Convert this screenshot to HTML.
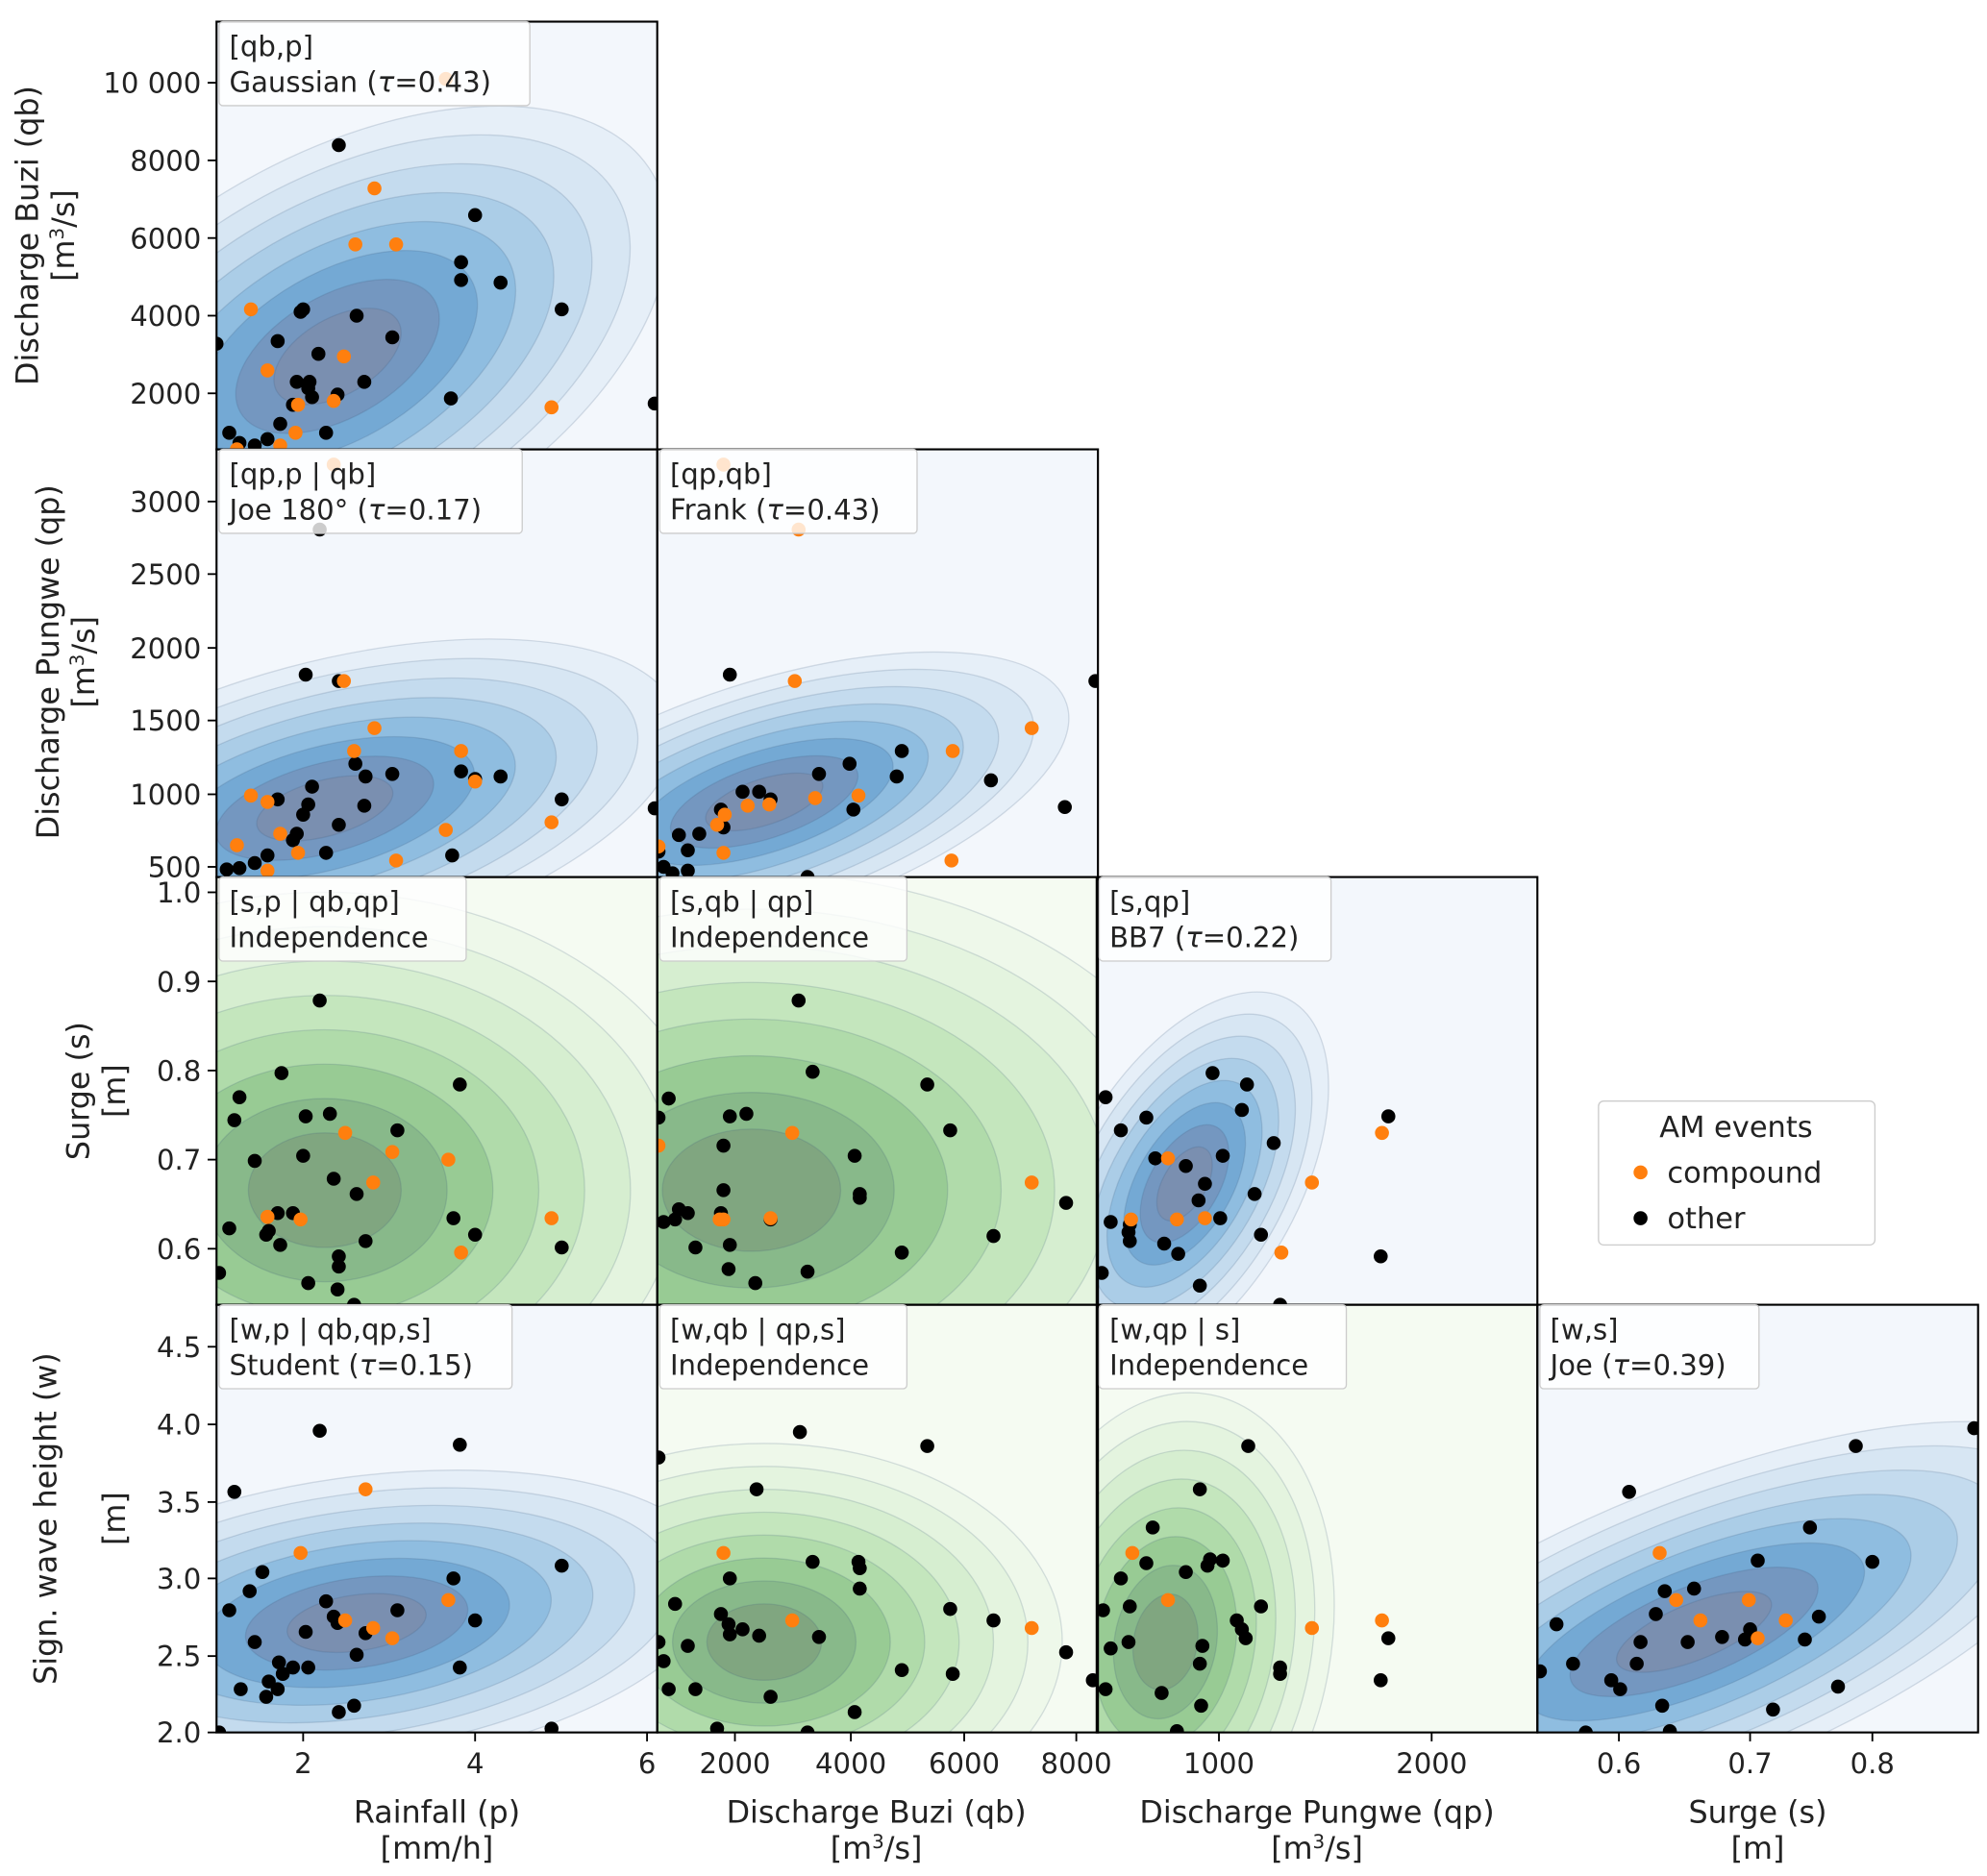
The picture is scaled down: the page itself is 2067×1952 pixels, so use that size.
<!DOCTYPE html>
<html><head><meta charset="utf-8">
<style>
html,body{margin:0;padding:0;background:#fff;}
svg text{font-family:"DejaVu Sans","Liberation Sans",sans-serif;fill:#222;}
</style></head>
<body>
<svg id="s" width="2067" height="1947" viewBox="0 0 1560 1470" preserveAspectRatio="none" xmlns="http://www.w3.org/2000/svg">
<defs></defs>
</svg>
<script>
const S=document.getElementById('s'),NS='http://www.w3.org/2000/svg';
function el(t,a,p){const e=document.createElementNS(NS,t);for(const k in a)e.setAttribute(k,a[k]);(p||S).appendChild(e);return e;}
function tx(x,y,s,o){o=o||{};const e=el('text',Object.assign({x:x,y:y,'font-size':o.fs||22,'text-anchor':o.a||'start'},o.tr?{transform:o.tr}:{}));e.innerHTML=s;return e;}
const defs=S.querySelector('defs');
const blue=['#f3f7fc','#e6eff8','#d7e6f3','#c4dbee','#abcde7','#8fbde0','#74a9d4','#7497c0','#7a8fb0'];
const green=['#f5fbf2','#eef8ea','#e4f4df','#d6eed0','#c4e6bd','#b0dbaa','#98cb94','#88b98a','#80a680'];
const W=346,H=336;
const P=[
[170,17,'b',265,280,-30,55,30],
[170,353,'b',255,635,-15,55,22],
[516,353,'b',600,630,-18,48,18],
[170,689,'g',255,935,0,60,45],
[516,689,'g',590,935,0,70,48],
[861,689,'b',930,930,-60,32,17],
[170,1025,'b',280,1275,-8,55,22],
[516,1025,'g',600,1290,0,45,30],
[861,1025,'g',915,1290,-80,38,25],
[1207,1025,'b',1330,1282,-22,65,22]];
P.forEach((p,i)=>{
 const [x,y,t,cx,cy,rot,rx,ry]=p;
 const cp=el('clipPath',{id:'c'+i},defs);el('rect',{x:x,y:y,width:W,height:H},cp);
 const g=el('g',{'clip-path':'url(#c'+i+')'});
 const col=t=='b'?blue:green;
 el('rect',{x:x,y:y,width:W,height:H,fill:col[0]},g);
 for(let k=7;k>=0;k--){
   const f=1+k*0.6;
   el('ellipse',{cx:cx,cy:cy,rx:rx*f,ry:ry*f,transform:`rotate(${rot} ${cx} ${cy})`,fill:col[8-k],stroke:'rgba(60,90,120,0.18)','stroke-width':1},g);
 }
 p.push(g);
});
const pts=[
[[170,270],[180,340],[188,348],[200,350],[210,345],[220,333],[218,268],[236,245],[238,243],[245,312],[242,305],[250,278],[243,300],[256,340],[266,114],[265,310],[280,248],[286,300],[308,265],[354,313],[362,206],[362,220],[373,169],[393,222],[441,243],[514,317],[230,318],[233,300]],
[[178,683],[188,682],[200,678],[210,672],[218,628],[233,655],[238,640],[240,530],[242,632],[245,618],[256,670],[266,535],[266,648],[279,600],[286,633],[287,610],[251,416],[308,608],[355,672],[362,606],[373,612],[393,610],[441,628],[514,635],[230,660]],
[[517,669],[521,681],[528,686],[533,656],[540,684],[549,655],[566,636],[573,530],[568,650],[583,622],[596,622],[605,628],[634,689],[643,608],[667,600],[670,636],[704,610],[708,590],[778,613],[836,634],[860,535],[540,668]],
[[172,1000],[180,965],[184,880],[188,862],[200,912],[209,970],[211,967],[218,953],[220,978],[221,843],[238,908],[240,877],[242,1008],[251,786],[259,875],[262,926],[265,1013],[266,987],[266,995],[280,938],[287,975],[312,888],[356,957],[361,852],[373,970],[441,980],[230,953],[278,1025]],
[[517,878],[521,960],[525,863],[530,958],[533,950],[540,953],[546,980],[566,953],[568,935],[573,877],[568,900],[572,997],[586,875],[593,1008],[605,958],[627,786],[634,999],[638,842],[671,908],[675,938],[675,941],[708,984],[728,852],[746,888],[780,971],[837,945],[573,978]],
[[868,862],[865,1000],[872,960],[880,888],[886,968],[887,962],[900,878],[907,910],[914,977],[925,985],[931,916],[941,943],[942,1010],[946,930],[952,843],[958,957],[960,908],[975,872],[979,852],[985,938],[990,970],[1000,898],[1084,987],[1090,877],[1005,1025],[887,975]],
[[172,1361],[180,1265],[184,1172],[189,1327],[196,1250],[200,1290],[209,1333],[211,1321],[218,1327],[219,1306],[222,1315],[230,1310],[240,1282],[242,1310],[251,1124],[256,1258],[262,1270],[265,1275],[266,1345],[278,1340],[280,1300],[287,1283],[312,1265],[356,1240],[361,1135],[361,1310],[373,1273],[441,1230],[433,1358],[206,1235]],
[[517,1145],[517,1290],[521,1305],[525,1327],[530,1260],[540,1293],[546,1327],[563,1358],[566,1268],[572,1276],[573,1240],[573,1284],[583,1280],[594,1170],[596,1285],[605,1333],[628,1125],[634,1361],[638,1227],[643,1286],[671,1345],[674,1227],[675,1232],[675,1248],[708,1312],[728,1136],[746,1264],[748,1315],[780,1273],[837,1298],[858,1320]],
[[866,1265],[868,1327],[872,1295],[880,1240],[886,1290],[887,1262],[900,1228],[905,1200],[912,1330],[924,1360],[931,1235],[942,1170],[942,1307],[944,1293],[948,1230],[950,1225],[960,1226],[971,1273],[975,1280],[978,1287],[980,1136],[990,1262],[1005,1310],[1005,1315],[1084,1320],[1090,1287],[943,1340]],
[[1209,1313],[1222,1276],[1235,1307],[1245,1361],[1265,1320],[1272,1327],[1279,1172],[1285,1307],[1288,1290],[1300,1268],[1305,1340],[1307,1250],[1311,1360],[1325,1290],[1330,1248],[1352,1286],[1370,1288],[1374,1280],[1380,1226],[1392,1343],[1417,1288],[1421,1200],[1428,1270],[1443,1325],[1457,1136],[1470,1227],[1550,1122]]];
const org=[
[[197,243],[210,291],[234,318],[232,340],[262,315],[270,280],[279,192],[294,148],[311,192],[350,62],[433,320],[220,350],[186,353]],
[[186,664],[197,625],[210,630],[234,670],[220,655],[262,365],[270,535],[278,590],[294,572],[311,676],[350,652],[362,590],[373,614],[433,646],[210,684]],
[[517,665],[563,648],[569,640],[587,633],[604,632],[624,535],[640,627],[674,625],[627,416],[568,365],[748,590],[747,676],[810,572],[568,670]],
[[210,956],[236,958],[271,890],[293,929],[308,905],[352,911],[362,984],[433,957]],
[[517,900],[565,958],[568,958],[605,957],[622,890],[810,929]],
[[888,958],[917,910],[924,958],[946,957],[1006,984],[1030,929],[1085,890]],
[[236,1220],[271,1273],[287,1170],[293,1279],[308,1287],[352,1257]],
[[568,1220],[622,1273],[810,1279]],
[[889,1220],[917,1257],[1030,1279],[1085,1273]],
[[1303,1220],[1316,1257],[1335,1273],[1373,1257],[1380,1287],[1402,1273]]];
P.forEach((p,i)=>{const g=p[8];
 pts[i].forEach(q=>el('circle',{cx:q[0],cy:q[1],r:5.5,fill:'#000'},g));
 org[i].forEach(q=>el('circle',{cx:q[0],cy:q[1],r:5.5,fill:'#ff7f0e'},g));
 el('rect',{x:p[0],y:p[1],width:W,height:H,fill:'none',stroke:'#000','stroke-width':1.6});
});
const L=[[172,17,244,'[qb,p]','Gaussian (<tspan font-style="italic">τ</tspan>=0.43)'],
[172,353,238,'[qp,p | qb]','Joe 180° (<tspan font-style="italic">τ</tspan>=0.17)'],
[518,353,202,'[qp,qb]','Frank (<tspan font-style="italic">τ</tspan>=0.43)'],
[172,689,194,'[s,p | qb,qp]','Independence'],
[518,689,194,'[s,qb | qp]','Independence'],
[863,689,182,'[s,qp]','BB7 (<tspan font-style="italic">τ</tspan>=0.22)'],
[172,1025,230,'[w,p | qb,qp,s]','Student (<tspan font-style="italic">τ</tspan>=0.15)'],
[518,1025,194,'[w,qb | qp,s]','Independence'],
[863,1025,194,'[w,qp | s]','Independence'],
[1209,1025,172,'[w,s]','Joe (<tspan font-style="italic">τ</tspan>=0.39)']];
L.forEach(l=>{el('rect',{x:l[0],y:l[1],width:l[2],height:66,fill:'rgba(255,255,255,0.8)',stroke:'#ccc',rx:3});
 tx(l[0]+8,l[1]+27,l[3]);tx(l[0]+8,l[1]+55,l[4]);});
function yt(vals,x){vals.forEach(v=>{el('line',{x1:x-7,y1:v[1],x2:x,y2:v[1],stroke:'#000','stroke-width':1.4});tx(x-12,v[1]+8,v[0],{a:'end'});});}
yt([['10 000',65],['8000',126],['6000',187],['4000',248],['2000',309]],170);
yt([['3000',394],['2500',451],['2000',509],['1500',566],['1000',624],['500',681]],170);
yt([['1.0',701],['0.9',771],['0.8',841],['0.7',911],['0.6',981]],170);
yt([['4.5',1058],['4.0',1119],['3.5',1180],['3.0',1240],['2.5',1301],['2.0',1361]],170);
function xt(vals){vals.forEach(v=>{el('line',{x1:v[1],y1:1361,x2:v[1],y2:1368,stroke:'#000','stroke-width':1.4});tx(v[1],1393,v[0],{a:'middle'});});}
xt([['2',238],['4',373],['6',508],['2000',577],['4000',668],['6000',757],['8000',845],['1000',957],['2000',1124],['0.6',1271],['0.7',1374],['0.8',1470]]);
const xl=[[343,'Rainfall (p)','[mm/h]'],[688,'Discharge Buzi (qb)','[m<tspan baseline-shift="super" font-size="15">3</tspan>/s]'],[1034,'Discharge Pungwe (qp)','[m<tspan baseline-shift="super" font-size="15">3</tspan>/s]'],[1380,'Surge (s)','[m]']];
xl.forEach(a=>{tx(a[0],1432,a[1],{a:'middle',fs:24});tx(a[0],1460,a[2],{a:'middle',fs:24});});
const yl=[[185,30,58,'Discharge Buzi (qb)','[m<tspan baseline-shift="super" font-size="15">3</tspan>/s]'],[520,46,74,'Discharge Pungwe (qp)','[m<tspan baseline-shift="super" font-size="15">3</tspan>/s]'],[857,70,98,'Surge (s)','[m]'],[1193,44,98,'Sign. wave height (w)','[m]']];
yl.forEach(a=>{tx(a[1],a[0],a[3],{a:'middle',fs:24,tr:`rotate(-90 ${a[1]} ${a[0]})`});tx(a[2],a[0],a[4],{a:'middle',fs:24,tr:`rotate(-90 ${a[2]} ${a[0]})`});});
el('rect',{x:1255,y:865,width:217,height:113,fill:'#fff',stroke:'#ccc',rx:4});
tx(1363,893,'AM events',{a:'middle',fs:23});
el('circle',{cx:1288,cy:921,r:5.5,fill:'#ff7f0e'});tx(1309,929,'compound',{fs:23});
el('circle',{cx:1288,cy:957,r:5.5,fill:'#000'});tx(1309,965,'other',{fs:23});
</script>
</body></html>
